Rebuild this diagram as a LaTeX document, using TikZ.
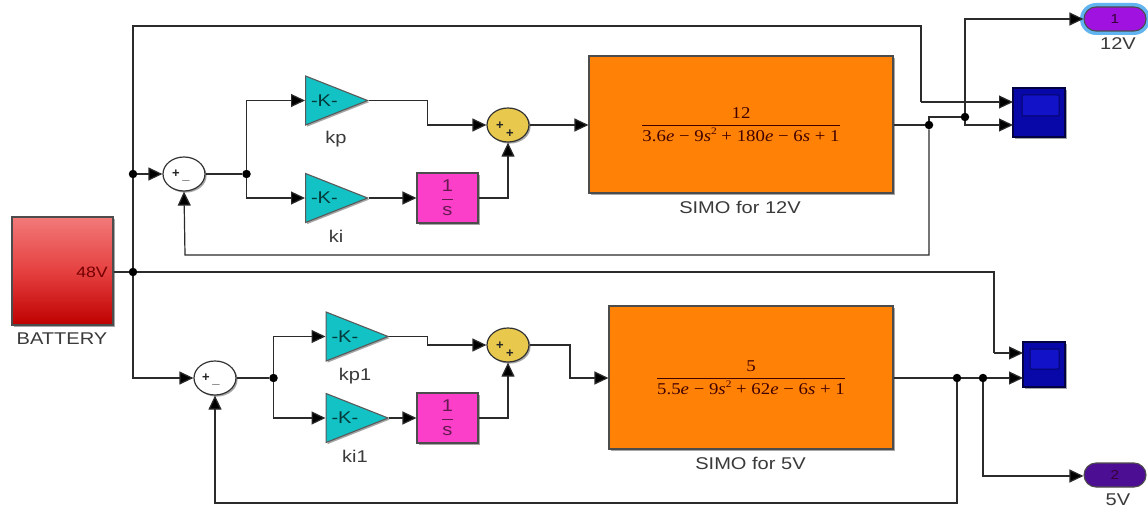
\documentclass[tikz,border=0pt]{standalone}
\usepackage{fontspec}
\setmainfont{Liberation Sans}
\newfontfamily\lab[FakeStretch=1.18]{Liberation Sans}
\newfontfamily\ser[FakeStretch=1.14]{Liberation Serif}
\usetikzlibrary{arrows.meta,shapes.geometric,shapes.misc,shadows}
\definecolor{wirec}{HTML}{2B2B2B}
\definecolor{gainc}{HTML}{12C2C4}
\definecolor{sumc}{HTML}{E8C94E}
\definecolor{intc}{HTML}{FB3FC9}
\definecolor{simoc}{HTML}{FF8207}
\definecolor{scopec}{HTML}{0808A8}
\definecolor{screenc}{HTML}{1212C8}
\definecolor{labc}{HTML}{3A3A3A}
\definecolor{oneC}{HTML}{A012E0}
\definecolor{twoC}{HTML}{4C0E92}
\definecolor{glowC}{HTML}{62B4F0}
\newcommand{\tf}[2]{{\ser\fontsize{16.5}{18}\selectfont\color{black!75!red}$\displaystyle\frac{\hbox{#1}}{\hbox{#2}}$}}
\newcommand{\ie}{\textit{e}}
\newcommand{\is}{\textit{s}}
\newcommand{\sq}{\raisebox{.45em}{\fontsize{10}{10}\selectfont 2}}
\tikzset{
  x=1pt,y=-1pt,
  wire/.style={draw=wirec,line width=1.2pt,line join=miter},
  arr/.style={wire,-{Triangle[length=14pt,width=13pt,fill=black]}},
  dot/.style={circle,fill=black,inner sep=0pt,minimum size=8.5pt},
  soft/.style={drop shadow={shadow xshift=1.6pt,shadow yshift=-1.6pt,opacity=.35,fill=black}},
  block/.style={draw=black!70,line width=1.1pt,rectangle,inner sep=0pt,soft},
  gainb/.style={isosceles triangle,isosceles triangle stretches,draw=black!65,line width=1.1pt,fill=gainc,
     minimum width=49pt,minimum height=62pt,inner sep=0pt,anchor=lower side,soft,
     text=black!70!gainc,font=\lab\fontsize{17}{17}\selectfont},
  sumb/.style={ellipse,draw=black!80,line width=1.2pt,minimum width=42pt,minimum height=34pt,inner sep=0pt,soft},
  intb/.style={block,fill=intc,minimum width=61pt,minimum height=50pt,text=black!60!intc,
     font=\lab\fontsize{17}{18}\selectfont},
  simob/.style={block,fill=simoc},
  scopeb/.style={block,fill=scopec,draw=black!60!scopec},
  screenb/.style={rectangle,fill=screenc,draw=black!40!scopec,line width=1pt,inner sep=0pt,rounded corners=1pt},
  outb/.style={rounded rectangle,draw=black!70,line width=1.1pt,minimum width=62pt,minimum height=24pt,inner sep=0pt,
     font=\lab\fontsize{13}{13}\selectfont},
  lbl/.style={text=labc,inner sep=0pt,font=\lab\fontsize{17}{17}\selectfont},
  sgn/.style={inner sep=0pt,font=\fontsize{13}{13}\selectfont\bfseries,text=black!85}
}
\begin{document}
\begin{tikzpicture}
\useasboundingbox (0,0) rectangle (1148,508);
\fill[white] (0,0) rectangle (1148,508);
% blocks
\node[block,top color=red!50!white!95!black,bottom color=red!75!black,middle color=red!72!white!90!black,minimum width=101pt,minimum height=108pt] (bat) at (62.5,271) {};
\node[inner sep=0pt,text=black!55!red,font=\lab\fontsize{15}{15}\selectfont,anchor=east] (v48) at (108,272) {48V};
\node[lbl] (batl) at (62,339) {BATTERY};

\node[sumb,fill=white] (s1) at (184,174) {};
\node[sgn] (s1p) at (176,174) {+};
\node[sgn] (s1m) at (186,180) {\_};
\node[gainb] (kp) at (305,100.5) {-K-};
\node[lbl] (kpl) at (336,139) {kp};
\node[gainb] (ki) at (305,198) {-K-};
\node[lbl] (kil) at (336,236) {ki};
\node[intb] (int1) at (447.5,198) {$\displaystyle\frac{\hbox{1}}{\hbox{s}}$};
\node[sumb,fill=sumc] (s2) at (508,125) {};
\node[sgn] (s2a) at (500,126) {+};
\node[sgn] (s2b) at (510,134) {+};
\node[simob,minimum width=304pt,minimum height=137pt] (simo1) at (741,124.5)
  {\tf{12}{3.6\ie\ − 9\is\sq\ + 180\ie\ − 6\is\ + 1}};
\node[lbl] (simo1l) at (740,207) {SIMO for 12V};
\node[scopeb,minimum width=52pt,minimum height=49pt] (sc1) at (1039,112.5) {};
\node[screenb,minimum width=37pt,minimum height=21pt] (sc1s) at (1040.5,105.5) {};
\node[outb,fill=glowC,draw=none,minimum width=70pt,minimum height=32pt] (glow) at (1115,19) {};
\node[outb,fill=oneC] (o1) at (1115,19) {\textcolor{black!60!violet}{1}};
\node[lbl] (o1l) at (1118,44) {12V};

\node[sumb,fill=white] (s3) at (215,378) {};
\node[sgn] (s3p) at (206,378) {+};
\node[sgn] (s3m) at (216,384) {\_};
\node[gainb] (kp1) at (325.5,336.5) {-K-};
\node[lbl] (kp1l) at (355,376) {kp1};
\node[gainb] (ki1) at (325.5,418) {-K-};
\node[lbl] (ki1l) at (355,456) {ki1};
\node[intb] (int2) at (447.5,418) {$\displaystyle\frac{\hbox{1}}{\hbox{s}}$};
\node[sumb,fill=sumc] (s4) at (508,345) {};
\node[sgn] (s4a) at (500,346) {+};
\node[sgn] (s4b) at (510,354) {+};
\node[simob,minimum width=284pt,minimum height=143pt] (simo2) at (751,377.5)
  {\tf{5}{5.5\ie\ − 9\is\sq\ + 62\ie\ − 6\is\ + 1}};
\node[lbl] (simo2l) at (750.5,463) {SIMO for 5V};
\node[scopeb,minimum width=42pt,minimum height=45pt] (sc2) at (1044,364.5) {};
\node[screenb,minimum width=29pt,minimum height=20pt] (sc2s) at (1044.5,359) {};
\node[outb,fill=twoC] (o2) at (1115,475) {\textcolor{black!55!violet}{2}};
\node[lbl] (o2l) at (1118,500) {5V};

% junctions
\node[dot] (j0) at (133,272) {};
\node[dot] (j1) at (133,174) {};
\node[dot] (j2) at (246.5,174) {};
\node[dot] (j3) at (929,125) {};
\node[dot] (j4) at (965,117) {};
\node[dot] (j5) at (273.5,378) {};
\node[dot] (j6) at (957,378) {};
\node[dot] (j7) at (983,378) {};

% ports and bends
\coordinate (top1) at (133,26);
\coordinate (top2) at (921,26);
\coordinate (top3) at (921,102);
\coordinate (p1a) at (1013,102);
\coordinate (p1b) at (1013,125);
\coordinate (m1) at (929,117);
\coordinate (m2) at (965,125);
\coordinate (up) at (965,19);
\coordinate (fb1) at (929,255);
\coordinate (fb2) at (185,255);
\coordinate (b1) at (133,378);
\coordinate (r1) at (994,272);
\coordinate (r2) at (994,353);
\coordinate (p2a) at (1023,353);
\coordinate (p2b) at (1023,378);
\coordinate (fb3) at (957,503);
\coordinate (fb4) at (215,503);
\coordinate (d1) at (983,476);
\coordinate (k1) at (427.5,100.5);
\coordinate (k2) at (427.5,125);
\coordinate (k3) at (427.5,336.5);
\coordinate (k4) at (427.5,345);
\coordinate (y1) at (570,345);
\coordinate (y2) at (570,378);
\coordinate (i1) at (508,198);
\coordinate (i2) at (508,418);
\coordinate (g1) at (246.5,100.5);
\coordinate (g2) at (246.5,198);
\coordinate (g3) at (273.5,336.5);
\coordinate (g4) at (273.5,418);

% connectors
\draw[wire] (bat.east |- j0) -- (j0);
\draw[wire] (j0) -- (r1) -- (r2);
\draw[arr] (r2) -- (p2a);
\draw[wire] (j0) -- (j1) -- (top1) -- (top2) -- (top3);
\draw[arr] (top3) -- (p1a);
\draw[arr] (j1) -- (s1.west);
\draw[wire] (s1.east) -- (j2);
\draw[arr] (j2) -- (g1) -- (kp.lower side);
\draw[arr] (j2) -- (g2) -- (ki.lower side);
\draw[arr] (kp.apex) -- (k1) -- (k2) -- (s2.west);
\draw[arr] (ki.apex) -- (int1.west);
\draw[arr] (int1.east) -- (i1) -- (s2.south);
\draw[arr] (s2.east) -- (simo1.west |- s2.east);
\draw[wire] (simo1.east |- j3) -- (j3);
\draw[wire] (j3) -- (m1) -- (j4);
\draw[arr] (j4) -- (m2) -- (p1b);
\draw[arr] (j4) -- (up) -- (o1.west |- up);
\draw[arr] (j3) -- (fb1) -- (fb2) -- (s1.south);

\draw[arr] (j0) -- (b1) -- (s3.west);
\draw[wire] (s3.east) -- (j5);
\draw[arr] (j5) -- (g3) -- (kp1.lower side);
\draw[arr] (j5) -- (g4) -- (ki1.lower side);
\draw[arr] (kp1.apex) -- (k3) -- (k4) -- (s4.west);
\draw[arr] (ki1.apex) -- (int2.west);
\draw[arr] (int2.east) -- (i2) -- (s4.south);
\draw[arr] (s4.east) -- (y1) -- (y2) -- (simo2.west |- y2);
\draw[wire] (simo2.east |- j6) -- (j6);
\draw[wire] (j6) -- (j7);
\draw[arr] (j7) -- (p2b);
\draw[arr] (j6) -- (fb3) -- (fb4) -- (s3.south);
\draw[arr] (j7) -- (d1) -- (o2.west |- d1);
\end{tikzpicture}
\end{document}
